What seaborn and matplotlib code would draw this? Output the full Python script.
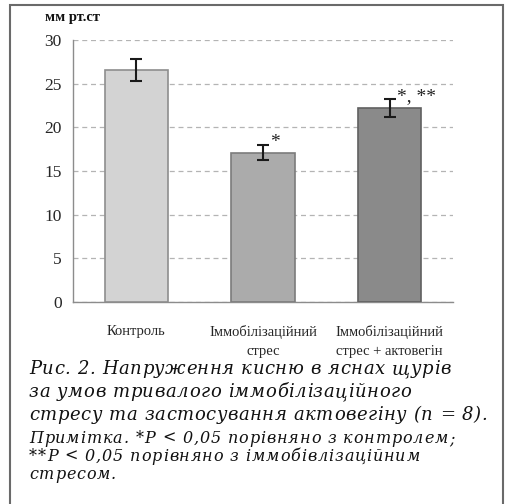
import matplotlib
matplotlib.use("Agg")
import matplotlib.pyplot as plt
import seaborn as sns
import pandas as pd
from matplotlib.patches import Rectangle
from matplotlib.font_manager import FontProperties, findfont, get_font
from matplotlib.ft2font import LOAD_NO_HINTING

# Oxygen tension in rat gums, mean ± error
categories = ["Контроль", "Іммобілізаційний\nстрес", "Іммобілізаційний\nстрес + актовегін"]
values = [26.6, 17.1, 22.2]
errors = [1.25, 0.85, 1.0]
marks = ["", "*", "*, **"]
bar_colors = ["#d3d3d3", "#ababab", "#8a8a8a"]
edge_colors = ["#8e8e8e", "#7c7c7c", "#606060"]
y_ticks = [0, 5, 10, 15, 20, 25, 30]
unit_label = "мм рт.ст"
caption_lines = [
    "Рис. 2. Напруження кисню в яснах щурів",
    "за умов тривалого іммобілізаційного",
    "стресу та застосування актовегіну (n = 8).",
]
note_lines = [
    "Примітка. *P < 0,05 порівняно з контролем;",
    "**P < 0,05 порівняно з іммобівлізаційним",
    "стресом.",
]

sns.set_theme(style="white")
plt.rcParams["font.family"] = ["Liberation Serif", "DejaVu Serif"]

W, H = 506, 504
DPI = 100
fig = plt.figure(figsize=(W / DPI, H / DPI), dpi=DPI)
fig.patch.set_facecolor("white")

left, right, top, bottom = 73, 453, 40, 302
ax = fig.add_axes([left / W, 1 - bottom / H, (right - left) / W, (bottom - top) / H])

df = pd.DataFrame({"group": categories, "value": values})
sns.barplot(data=df, x="group", y="value", hue="group", palette=bar_colors,
            legend=False, width=0.5, ax=ax, zorder=3, errorbar=None)
for patch, ec in zip(ax.patches, edge_colors):
    patch.set_edgecolor(ec)
    patch.set_linewidth(1.2)

xs = list(range(len(categories)))
ax.errorbar(xs, values, yerr=errors, fmt="none", ecolor="#1a1a1a",
            elinewidth=1.5, capsize=4, capthick=1.5, zorder=4)

for x, v, e, m in zip(xs, values, errors, marks):
    if m:
        ax.text(x + 0.055, v + e - 0.7, m, ha="left", va="bottom",
                fontsize=14, color="#222222")

ax.set_xlim(-0.5, 2.5)
ax.set_ylim(0, 30)
ax.set_yticks(y_ticks)
ax.set_yticklabels([str(t) for t in y_ticks], fontsize=12.5)
ax.yaxis.grid(True, linestyle=(0, (4, 3)), color="#b4b4b4", linewidth=0.9, zorder=0)
ax.xaxis.grid(False)
ax.set_axisbelow(True)

# category boundaries carry the tick marks, names sit between them
ax.set_xticks([-0.5, 0.5, 1.5, 2.5])
ax.set_xticklabels([])
ax.set_xticks(xs, minor=True)
ax.set_xticklabels(categories, minor=True, fontsize=10.5, linespacing=1.65)
ax.tick_params(axis="x", which="minor", length=0, pad=16.5)
ax.tick_params(axis="x", which="major", length=4, width=1, color="#8c8c8c", direction="out")
ax.tick_params(axis="y", length=4, width=1, color="#8c8c8c", direction="out", pad=4)
ax.set_xlabel("")
ax.set_ylabel("")

for s in ["top", "right"]:
    ax.spines[s].set_visible(False)
for s in ["left", "bottom"]:
    ax.spines[s].set_color("#8c8c8c")
    ax.spines[s].set_linewidth(1)

fig.text(45 / W, 1 - 17 / H, unit_label, fontsize=10.5, fontweight="bold",
         ha="left", va="center", color="#111111")

# frame around the figure and its caption
fig.add_artist(Rectangle((10 / W, -0.05), 493 / W, 1 - 5 / H + 0.05,
                         transform=fig.transFigure, fill=False,
                         edgecolor="#6a6a6a", linewidth=1.5, clip_on=False))


def spaced_line(x_px, y_px, text, size, tracking_px):
    """Draw italic serif text with extra letter spacing, one glyph at a time."""
    prop = FontProperties(family="DejaVu Serif", style="italic", size=size)
    font = get_font(findfont(prop))
    font.set_size(size, DPI)
    x = x_px
    for ch in text:
        fig.text(x / W, 1 - y_px / H, ch, fontproperties=prop,
                 ha="left", va="baseline", color="#111111")
        glyph = font.load_char(ord(ch), flags=LOAD_NO_HINTING)
        x += glyph.linearHoriAdvance / 65536 + tracking_px


for i, line in enumerate(caption_lines):
    spaced_line(29, 374 + 23 * i, line, 13, 0.6)
for i, line in enumerate(note_lines):
    spaced_line(29, 443 + 18 * i, line, 11.5, 0.9)

fig.savefig("out.png", dpi=DPI)
